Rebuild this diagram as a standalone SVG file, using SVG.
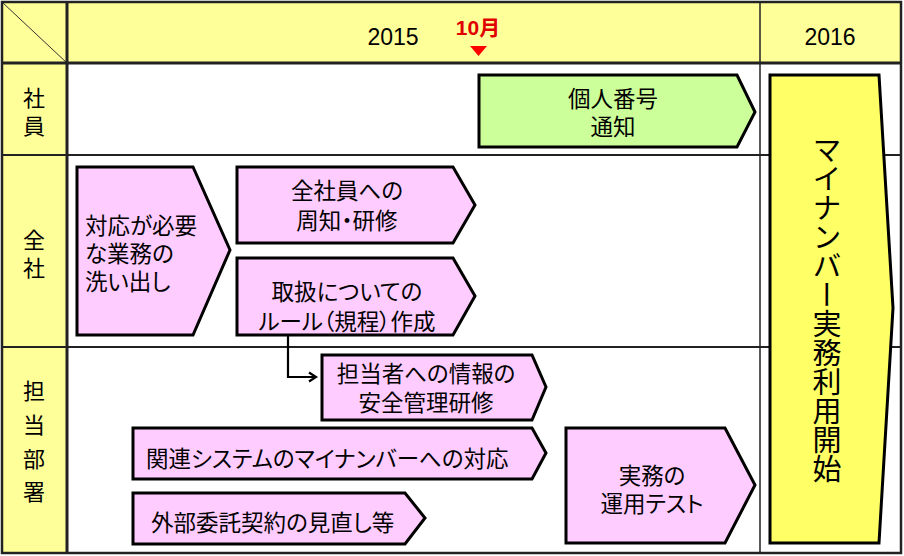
<svg xmlns="http://www.w3.org/2000/svg" width="904" height="556" viewBox="0 0 904 556">
<defs>
<style>
.t{font-family:"Noto Sans CJK JP","Liberation Sans",sans-serif;font-size:22.5px;fill:#000;font-feature-settings:"palt"}
.lbl{font-family:"Noto Sans CJK JP","Liberation Sans",sans-serif;font-size:22px;fill:#000;text-anchor:middle}
.n{font-family:"Liberation Sans","Noto Sans CJK JP",sans-serif;font-size:23px;fill:#000;text-anchor:middle}
.c{text-anchor:middle}
.pink{fill:#FFCCFF;stroke:#000;stroke-width:3;stroke-linejoin:miter}
.grid{stroke:#222;fill:none}
</style>
<marker id="ah" markerWidth="12" markerHeight="12" refX="9" refY="6" orient="auto" markerUnits="userSpaceOnUse">
<path d="M2,1.5 L9,6 L2,10.5" fill="none" stroke="#000" stroke-width="2.2"/>
</marker>
</defs>
<rect x="0" y="0" width="904" height="556" fill="#fff"/>
<g id="grid">
<rect x="2" y="2" width="899" height="61" fill="#FFFF99"/>
<rect x="2" y="63" width="65" height="490" fill="#FFFF99"/>
<line x1="3" y1="3" x2="67" y2="63" stroke="#333" stroke-width="1"/>
<line x1="2" y1="63" x2="901" y2="63" class="grid" stroke-width="3"/>
<line x1="2" y1="155" x2="901" y2="155" class="grid" stroke-width="2"/>
<line x1="2" y1="347" x2="901" y2="347" class="grid" stroke-width="2"/>
<line x1="67" y1="2" x2="67" y2="553" class="grid" stroke-width="3"/>
<line x1="760" y1="2" x2="760" y2="553" class="grid" stroke-width="1.5"/>
<rect x="2" y="2" width="899" height="551" class="grid" stroke-width="2.5"/>
<text x="393" y="45" class="n">2015</text>
<text x="830" y="45" class="n">2016</text>
<text x="34" y="106" class="lbl">社</text>
<text x="34" y="134" class="lbl">員</text>
<text x="34" y="248" class="lbl">全</text>
<text x="34" y="276" class="lbl">社</text>
<text x="34" y="399" class="lbl">担</text>
<text x="34" y="433" class="lbl">当</text>
<text x="34" y="467" class="lbl">部</text>
<text x="34" y="500" class="lbl">署</text>
</g>
<g id="marker10">
<text x="478" y="35" class="n" style="fill:#E00000;font-weight:bold;font-size:21px">10月</text>
<path d="M470,46 L487,46 L478.5,56 Z" fill="#FF0000"/>
</g>
<g id="tsuchi">
<path d="M479,75 L737,75 L755,112 L737,147 L479,147 Z" fill="#CCFF99" stroke="#000" stroke-width="3"/>
<text x="613" y="107" class="t c">個人番号</text>
<text x="613" y="135" class="t c">通知</text>
</g>
<g id="arai">
<path d="M77,167 L193,167 L230,250 L193,335 L77,335 Z" class="pink"/>
<text x="85" y="234" class="t">対応が必要</text>
<text x="85" y="262" class="t">な業務の</text>
<text x="85" y="290" class="t">洗い出し</text>
</g>
<g id="shuchi">
<path d="M237,167 L453,167 L475,205 L453,243 L237,243 Z" class="pink"/>
<text x="347" y="199" class="t c">全社員への</text>
<text x="347" y="229" class="t c">周知・研修</text>
</g>
<g id="rule">
<path d="M237,258 L453,258 L475,296 L453,335 L237,335 Z" class="pink"/>
<text x="347" y="300" class="t c">取扱についての</text>
<text x="347" y="330" class="t c">ルール（規程）作成</text>
</g>
<g id="tanto">
<path d="M322,355 L532,355 L546,387 L532,420 L322,420 Z" class="pink"/>
<text x="426" y="382" class="t c">担当者への情報の</text>
<text x="426" y="411" class="t c">安全管理研修</text>
</g>
<g id="system">
<path d="M133,428 L532,428 L546,453 L532,479 L133,479 Z" class="pink"/>
<text x="146" y="467" class="t">関連システムのマイナンバーへの対応</text>
</g>
<g id="gaibu">
<path d="M133,493 L405,493 L425,518 L405,544 L133,544 Z" class="pink"/>
<text x="151" y="531" class="t">外部委託契約の見直し等</text>
</g>
<g id="test">
<path d="M566,428 L725,428 L755,485 L725,543 L566,543 Z" class="pink"/>
<text x="652" y="484" class="t c">実務の</text>
<text x="652" y="512" class="t c">運用テスト</text>
</g>
<g id="kaishi">
<path d="M770,75 L879,75 L893,308 L879,543 L770,543 Z" fill="#FFFF66" stroke="#000" stroke-width="3"/>
<text x="827" y="135" class="t" style="font-size:29px;writing-mode:vertical-rl;text-anchor:start;font-feature-settings:normal">マイナンバー実務利用開始</text>
</g>
<g id="connectors">
<path d="M288,335 L288,377 L316,377" fill="none" stroke="#000" stroke-width="2.2" marker-end="url(#ah)"/>
</g>
</svg>
